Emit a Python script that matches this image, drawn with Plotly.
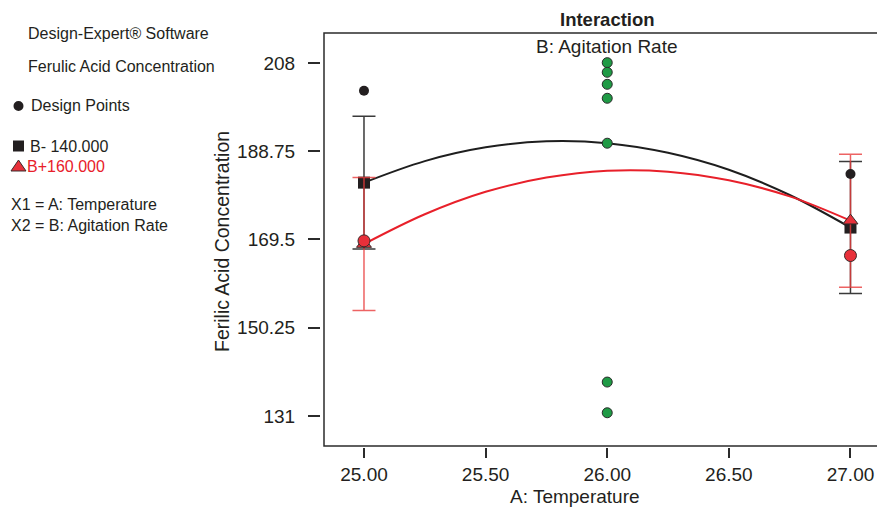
import plotly.graph_objects as go

# ---------------- data ----------------
curve_temps = [25.0, 25.25, 25.5, 25.75, 26.0, 26.25, 26.5, 26.75, 27.0]
black_curve = [181.9, 186.6, 189.6, 190.9, 190.5, 188.4, 184.7, 179.2, 172.1]   # B- 140.000
red_curve = [168.5, 175.0, 179.9, 183.0, 184.5, 184.3, 182.4, 178.9, 173.6]     # B+ 160.000
level_temps = [25.0, 27.0]
black_means = [181.9, 172.1]
red_means = [168.5, 173.6]
black_ci = [14.5, 14.4]
red_ci = [14.5, 14.5]

black_pts_x = [25.0, 27.0]
black_pts_y = [201.96, 183.8]
red_pts_x = [25.0, 27.0]
red_pts_y = [169.2, 166.0]
green_pts_x = [26.0, 26.0, 26.0, 26.0, 26.0, 26.0, 26.0]
green_pts_y = [208.07, 205.97, 203.35, 200.3, 190.5, 138.4, 131.7]

x_tickvals = [25.0, 25.5, 26.0, 26.5, 27.0]
x_ticktext = ["25.00", "25.50", "26.00", "26.50", "27.00"]
y_tickvals = [131, 150.25, 169.5, 188.75, 208]
y_ticktext = ["131", "150.25", "169.5", "188.75", "208"]

# ---------------- geometry helpers (screen pixels -> paper) ----------------
OFF = 8                      # page body margin
W, H = 885 - OFF, 507 - OFF
ML, MR, MT, MB = 292, 0, 0, 0
PW = W - ML - MR
PH = H - MT - MB


def px(xs):
    return (xs - OFF - ML) / PW


def py(ys):
    return (H - MB - (ys - OFF)) / PH


FONT = "Liberation Sans, Arial, Helvetica, sans-serif"
TXT = "#231f20"
RED = "#e8202a"
DARK = "#2b2b2b"

fig = go.Figure()

# black (B-) curve and CI bars
fig.add_trace(go.Scatter(x=curve_temps, y=black_curve, mode="lines",
                         line=dict(color="#1e1e1e", width=2, shape="spline", smoothing=1.0),
                         hoverinfo="skip"))
fig.add_trace(go.Scatter(x=level_temps, y=black_means, mode="markers",
                         marker=dict(symbol="square", size=12, color="#231f20",
                                     line=dict(width=0)),
                         error_y=dict(type="data", array=black_ci, visible=True,
                                      color="#3a3a3a", thickness=1.5, width=11.5)))
# red (B+) curve and CI bars
fig.add_trace(go.Scatter(x=curve_temps, y=red_curve, mode="lines",
                         line=dict(color=RED, width=2, shape="spline", smoothing=1.0),
                         hoverinfo="skip"))
fig.add_trace(go.Scatter(x=level_temps, y=red_means, mode="markers",
                         marker=dict(symbol="triangle-up", size=13, color="#e8303a",
                                     line=dict(width=1, color="#3a2a2a")),
                         error_y=dict(type="data", array=red_ci, visible=True,
                                      color="rgba(232,60,60,0.8)", thickness=1.5, width=11.5)))
# design points
fig.add_trace(go.Scatter(x=black_pts_x, y=black_pts_y, mode="markers",
                         marker=dict(symbol="circle", size=10, color="#231f20")))
fig.add_trace(go.Scatter(x=red_pts_x, y=red_pts_y, mode="markers",
                         marker=dict(symbol="circle", size=12, color="#e8303a",
                                     line=dict(width=1, color="#3a2a2a"))))
fig.add_trace(go.Scatter(x=green_pts_x, y=green_pts_y, mode="markers",
                         marker=dict(symbol="circle", size=10, color="#1f9a45",
                                     line=dict(width=1, color="#2a2a2a"))))

axis_common = dict(showgrid=False, zeroline=False, showline=False, ticks="outside",
                   tickcolor=DARK, tickwidth=1.5, automargin=False,
                   tickfont=dict(family=FONT, size=19, color=TXT))

fig.update_layout(
    width=W, height=H,
    margin=dict(l=ML, r=MR, t=MT, b=MB, pad=0),
    paper_bgcolor="white", plot_bgcolor="white",
    showlegend=False,
    xaxis=dict(domain=[px(324), 1.0], range=[24.8356, 27.1419],
               anchor="free", position=py(447),
               tickvals=x_tickvals, ticktext=x_ticktext, ticklen=10,
               **axis_common),
    yaxis=dict(domain=[py(446), py(33)], range=[124.45, 214.54],
               anchor="free", position=px(320),
               tickvals=y_tickvals, ticktext=y_ticktext, ticklen=12,
               ticklabelstandoff=9,
               **axis_common),
)

# frame
fig.add_shape(type="rect", xref="paper", yref="paper",
              x0=px(324), x1=px(888), y0=py(446), y1=py(33),
              line=dict(color=DARK, width=1.5), layer="below")


def ann(text, x, y, size=15, color=TXT, xanchor="left", bold=False, angle=0):
    if bold:
        text = "<b>" + text + "</b>"
    fig.add_annotation(text=text, x=px(x), y=py(y), xref="paper", yref="paper",
                       showarrow=False, xanchor=xanchor, yanchor="middle",
                       textangle=angle,
                       font=dict(family=FONT, size=size, color=color))


# titles
ann("Interaction", 607, 19, size=18.5, xanchor="center", bold=True)
ann("B: Agitation Rate", 607, 47, size=19, xanchor="center")
ann("A: Temperature", 575, 496, size=19, xanchor="center")
ann("Ferilic Acid Concentration", 222, 242, size=19.5, xanchor="center", angle=-90)

# left info panel
ann("Design-Expert® Software", 26, 33, size=16)
ann("Ferulic Acid Concentration", 26, 66, size=16)
ann("Design Points", 29, 106, size=16)
ann("B- 140.000", 28, 146, size=16)
ann("B+160.000", 25, 166, size=16, color=RED)
ann("X1 = A: Temperature", 9, 205, size=16)
ann("X2 = B: Agitation Rate", 9, 225, size=16)

# legend glyphs
fig.add_shape(type="circle", xref="paper", yref="paper",
              x0=px(13.5), x1=px(23.5), y0=py(111), y1=py(101),
              fillcolor="#231f20", line=dict(width=0))
fig.add_shape(type="rect", xref="paper", yref="paper",
              x0=px(13), x1=px(24), y0=py(151.5), y1=py(140.5),
              fillcolor="#231f20", line=dict(width=0))
fig.add_shape(type="path", xref="paper", yref="paper",
              path="M {:.5f} {:.5f} L {:.5f} {:.5f} L {:.5f} {:.5f} Z".format(
                  px(11), py(171), px(26), py(171), px(18.5), py(160)),
              fillcolor="#e8303a", line=dict(width=1, color="#3a2a2a"))

fig.write_html("out.html")
